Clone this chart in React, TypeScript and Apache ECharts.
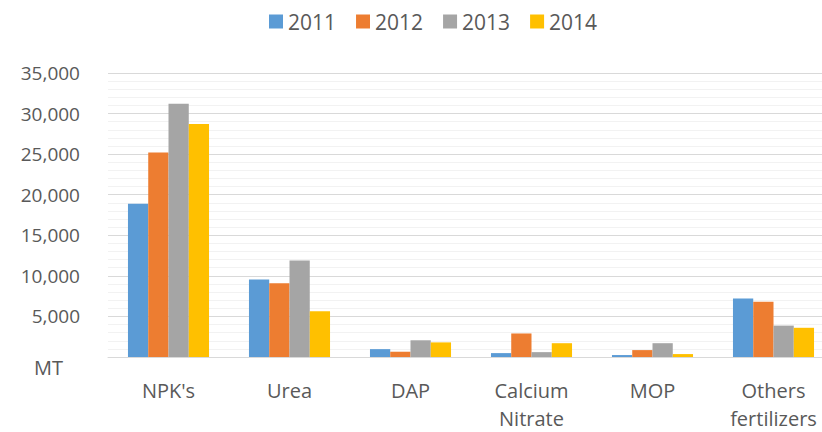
import React, { useEffect, useRef } from "react";
import * as echarts from "echarts";

const categories = ["NPK's", "Urea", "DAP", "Calcium\nNitrate", "MOP", "Others\nfertilizers"];
const seriesNames = ["2011", "2012", "2013", "2014"];
const values2011 = [18900, 9550, 970, 480, 240, 7200];
const values2012 = [25200, 9080, 650, 2900, 850, 6800];
const values2013 = [31200, 11900, 2060, 600, 1700, 3870];
const values2014 = [28700, 5650, 1800, 1700, 360, 3600];
const colors = ["#5B9BD5", "#ED7D31", "#A5A5A5", "#FFC000"];

export default function App() {
  const ref = useRef<HTMLDivElement>(null);
  useEffect(() => {
    if (!ref.current) return;
    const chart = echarts.init(ref.current, null, { renderer: "svg" });
    const all = [values2011, values2012, values2013, values2014];
    chart.setOption({
      animation: false,
      textStyle: { fontFamily: "Open Sans" },
      legend: {
        top: 6,
        left: 264,
        itemWidth: 14,
        itemHeight: 14,
        itemGap: 20,
        icon: "rect",
        textStyle: { fontSize: 21, color: "#595959", fontFamily: "Open Sans" },
        data: seriesNames,
      },
      grid: { left: 108, right: 0, top: 73, bottom: 70, containLabel: false },
      xAxis: {
        type: "category",
        data: categories,
        axisLine: { show: true, lineStyle: { color: "#D9D9D9", width: 1 } },
        axisTick: { show: false },
        axisLabel: {
          margin: 19,
          fontSize: 20,
          lineHeight: 28,
          color: "#595959",
          fontFamily: "Open Sans",
          interval: 0,
          verticalAlign: "top",
        },
      },
      yAxis: {
        type: "value",
        min: 0,
        max: 35000,
        interval: 5000,
        axisLine: { show: false },
        axisTick: { show: false },
        axisLabel: {
          margin: 28,
          fontSize: 19,
          color: "#595959",
          fontFamily: "Open Sans",
          formatter: (v: number) => (v === 0 ? "{mt|MT}" : v.toLocaleString("en-US")),
          rich: {
            mt: { fontSize: 20, color: "#595959", fontFamily: "Open Sans", padding: [20, 17, 0, 0] },
          },
        },
        splitLine: { show: true, lineStyle: { color: "#D9D9D9", width: 1 } },
        minorTick: { show: false, splitNumber: 5 },
        minorSplitLine: { show: true, lineStyle: { color: "#F2F2F2", width: 1 } },
      },
      series: seriesNames.map((name, i) => ({
        name,
        type: "bar",
        data: all[i],
        barGap: "0%",
        barCategoryGap: "33%",
        itemStyle: { color: colors[i] },
      })),
    });
    return () => chart.dispose();
  }, []);
  return (
    <div style={{ position: "absolute", left: 0, top: 0, width: 822, height: 432, overflow: "hidden" }}>
      <div ref={ref} style={{ width: 834, height: 432 }} />
    </div>
  );
}
